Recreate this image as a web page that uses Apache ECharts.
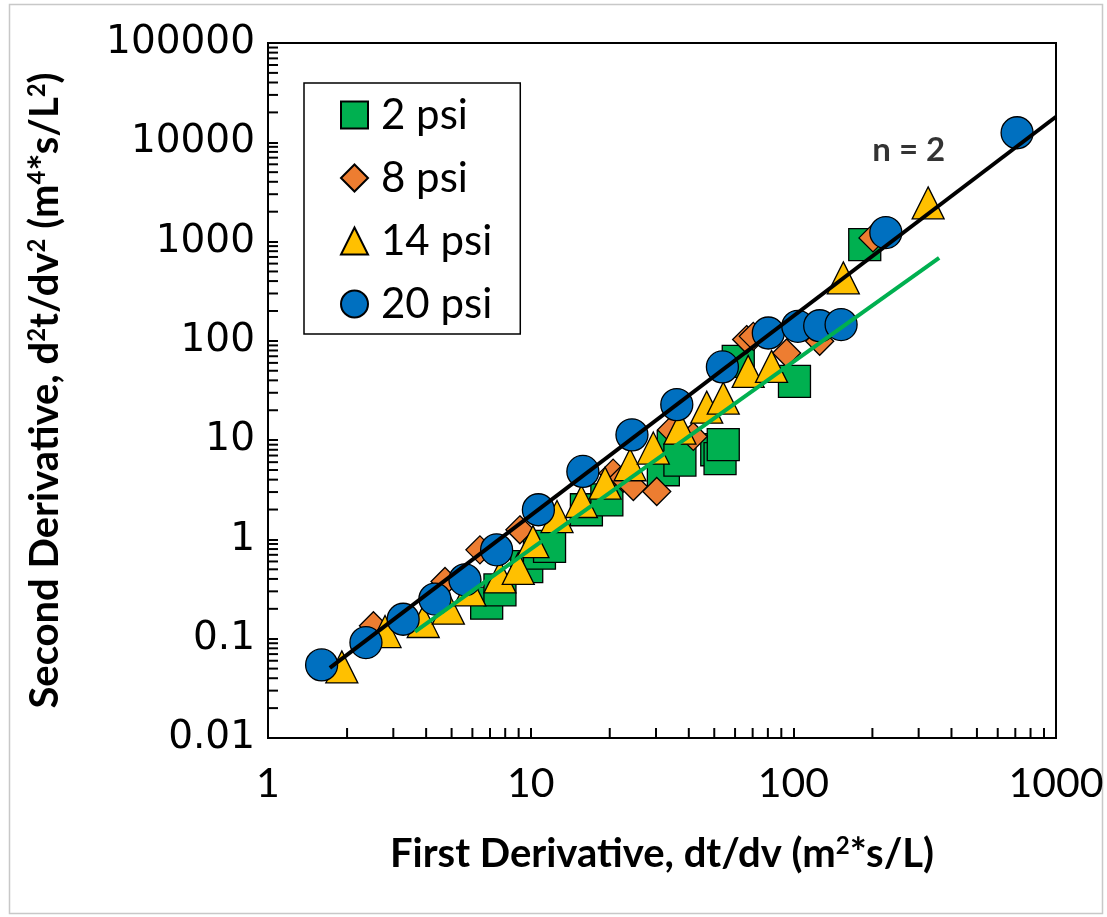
<!DOCTYPE html>
<html>
<head>
<meta charset="utf-8">
<script src="https://cdn.jsdelivr.net/npm/echarts@6/dist/echarts.min.js"></script>
<style>
  html, body { margin: 0; padding: 0; background: #fff; }
  #chart { width: 1107px; height: 917px; }
</style>
</head>
<body>
<div id="chart"></div>
<script>
// ---- data ----
const seriesNames = ['2 psi', '8 psi', '14 psi', '20 psi'];

const psi2 = [
  [6.80, 0.228], [7.64, 0.31], [9.66, 0.533], [10.8, 0.727], [11.8, 0.85],
  [16.3, 1.99], [19.5, 2.5], [32.0, 5.03], [34.9, 8.6], [37.0, 6.3],
  [51.1, 8.0], [52.6, 6.5], [54.1, 9.0], [61.7, 62.1], [101, 39], [187, 933]
];
const psi8 = [
  [2.52, 0.135], [4.72, 0.377], [6.41, 0.785], [9.10, 1.25], [20.6, 4.65],
  [22.5, 4.15], [24.6, 3.41], [30.2, 3.04], [34.4, 12.7], [41.6, 10.9],
  [66.4, 103], [70.4, 111], [94.3, 75.5], [126, 98.9], [201, 1089]
];
const psi14 = [
  [1.91, 0.052], [2.79, 0.118], [3.90, 0.149], [4.86, 0.203], [5.87, 0.31],
  [7.64, 0.42], [8.97, 0.51], [10.2, 0.95], [12.6, 1.70], [15.6, 2.41],
  [19.2, 3.69], [23.9, 5.65], [29.3, 8.32], [37.0, 13.2], [46.8, 21.5],
  [54.1, 26.5], [67.3, 49.3], [82.6, 55.3], [155, 431], [326, 2455]
];
const psi20 = [
  [1.60, 0.0545], [2.36, 0.0914], [3.27, 0.157], [4.32, 0.251], [5.62, 0.392],
  [7.42, 0.786], [10.7, 1.99], [15.8, 4.84], [24.3, 11.3], [36.0, 22.8],
  [53.7, 54.6], [80.3, 120], [104, 140], [126, 142], [152, 146],
  [225, 1233], [711, 12480]
];
// fitted lines (end points)
const blackLine = [[1.72, 0.0508], [1000, 18070]];
const greenLine = [[3.63, 0.118], [359, 685]];
const annotation = [[275, 8260, 'n = 2']];

const xTickValues = [1, 10, 100, 1000];
const xTickLabels = ['1', '10', '100', '1000'];
const yTickValues = [0.01, 0.1, 1, 10, 100, 1000, 10000, 100000];
const yTickLabels = ['0.01', '0.1', '1', '10', '100', '1000', '10000', '100000'];
const minorMultipliers = [2, 3, 4, 5, 6, 7, 8, 9];

// minor tick positions (2..9 within each decade)
const xMinor = [];
for (let i = 0; i < xTickValues.length - 1; i++) minorMultipliers.forEach(m => xMinor.push([xTickValues[i] * m, yTickValues[0]]));
const yMinor = [];
for (let i = 0; i < yTickValues.length - 1; i++) minorMultipliers.forEach(m => yMinor.push([xTickValues[0], yTickValues[i] * m]));

function labelFor(values, labels, v) {
  let best = 0, bd = Infinity;
  values.forEach((t, i) => { const d = Math.abs(Math.log10(t) - Math.log10(v)); if (d < bd) { bd = d; best = i; } });
  return labels[best];
}

const chart = echarts.init(document.getElementById('chart'), null, { renderer: 'canvas' });
const border = { borderColor: '#000', borderWidth: 1.3 };
const supStyle = { fontFamily: 'Lato', fontWeight: 'bold', fontSize: 24, verticalAlign: 'top', padding: [0, 0, 16, 0], color: '#000' };

const option = {
  backgroundColor: '#fff',
  animation: false,
  graphic: [{
    type: 'rect', left: 7, top: 2, shape: { width: 1093, height: 909 },
    style: { fill: 'none', stroke: '#c8c8c8', lineWidth: 1.5 }, silent: true, z: -10
  }],
  grid: { left: 268, right: 51, top: 43, bottom: 179, show: true, borderColor: '#000', borderWidth: 2, backgroundColor: 'transparent' },
  legend: {
    orient: 'vertical', left: 304, top: 83,
    data: seriesNames,
    borderColor: '#000', borderWidth: 1.5, borderRadius: 0,
    backgroundColor: '#fff',
    padding: [11, 28, 9, 36],
    itemWidth: 27, itemHeight: 27, itemGap: 21,
    textStyle: { fontFamily: 'Lato', fontSize: 42, color: '#000', lineHeight: 42, padding: [0, 0, 0, 8] }
  },
  xAxis: {
    type: 'log', logBase: 10, min: 1, max: 1000, splitNumber: 3,
    axisLine: { lineStyle: { color: '#000', width: 2 } },
    axisTick: { inside: true, length: 10, lineStyle: { color: '#000', width: 2 } },
    splitLine: { show: false },
    axisLabel: {
      color: '#000', fontFamily: 'Lato', fontSize: 41, margin: 25,
      formatter: v => labelFor(xTickValues, xTickLabels, v)
    },
    name: 'First Derivative, dt/dv (m{sup|2}*s/L)',
    nameLocation: 'middle', nameGap: 96,
    nameTextStyle: {
      color: '#000', fontFamily: 'Lato', fontWeight: 'bold', fontSize: 40,
      rich: { sup: supStyle }
    }
  },
  yAxis: {
    type: 'log', logBase: 10, min: 0.01, max: 100000, splitNumber: 7,
    axisLine: { lineStyle: { color: '#000', width: 2 } },
    axisTick: { inside: true, length: 10, lineStyle: { color: '#000', width: 2 } },
    splitLine: { show: false },
    axisLabel: {
      color: '#000', fontFamily: 'DejaVu Sans', fontSize: 39, margin: 13,
      formatter: v => labelFor(yTickValues, yTickLabels, v)
    },
    name: 'Second Derivative, d{sup|2}t/dv{sup|2} (m{sup|4}*s/L{sup|2})',
    nameLocation: 'middle', nameGap: 203, nameRotate: 90,
    nameTextStyle: {
      color: '#000', fontFamily: 'Lato', fontWeight: 'bold', fontSize: 40,
      rich: { sup: supStyle }
    }
  },
  series: [
    {
      name: '2 psi', type: 'scatter', data: psi2, symbol: 'rect', symbolSize: 32, z: 2,
      itemStyle: Object.assign({ color: '#00B050', opacity: 1 }, border)
    },
    {
      name: '8 psi', type: 'scatter', data: psi8, symbol: 'diamond', symbolSize: 28, z: 3,
      itemStyle: Object.assign({ color: '#ED7D31', opacity: 1 }, border)
    },
    {
      name: '14 psi', type: 'scatter', data: psi14, symbol: 'triangle', symbolSize: 32, z: 4,
      itemStyle: Object.assign({ color: '#FFC000', opacity: 1 }, border)
    },
    {
      name: '20 psi', type: 'scatter', data: psi20, symbol: 'circle', symbolSize: 32, z: 5,
      itemStyle: Object.assign({ color: '#0070C0', opacity: 1 }, border)
    },
    {
      name: 'fitGreen', type: 'line', data: greenLine, symbol: 'none', z: 6, silent: true,
      lineStyle: { color: '#00B050', width: 4 }
    },
    {
      name: 'fitBlack', type: 'line', data: blackLine, symbol: 'none', z: 7, silent: true,
      lineStyle: { color: '#000', width: 4 }
    },
    {
      name: 'annot', type: 'scatter', data: annotation, symbolSize: 0, z: 8, silent: true,
      label: {
        show: true, position: 'inside', formatter: p => p.data[2],
        color: '#000', fontFamily: 'Lato', fontWeight: 'bold', fontSize: 33
      }
    },
    {
      name: 'xMinorTicks', type: 'custom', data: xMinor, silent: true, z: 9, clip: false,
      renderItem: (params, api) => {
        const p = api.coord([api.value(0), api.value(1)]);
        return { type: 'line', shape: { x1: p[0], y1: p[1], x2: p[0], y2: p[1] - 10 }, style: { stroke: '#000', lineWidth: 2 } };
      }
    },
    {
      name: 'yMinorTicks', type: 'custom', data: yMinor, silent: true, z: 9, clip: false,
      renderItem: (params, api) => {
        const p = api.coord([api.value(0), api.value(1)]);
        return { type: 'line', shape: { x1: p[0], y1: p[1], x2: p[0] + 10, y2: p[1] }, style: { stroke: '#000', lineWidth: 2 } };
      }
    }
  ]
};
chart.setOption(option);
</script>
</body>
</html>
